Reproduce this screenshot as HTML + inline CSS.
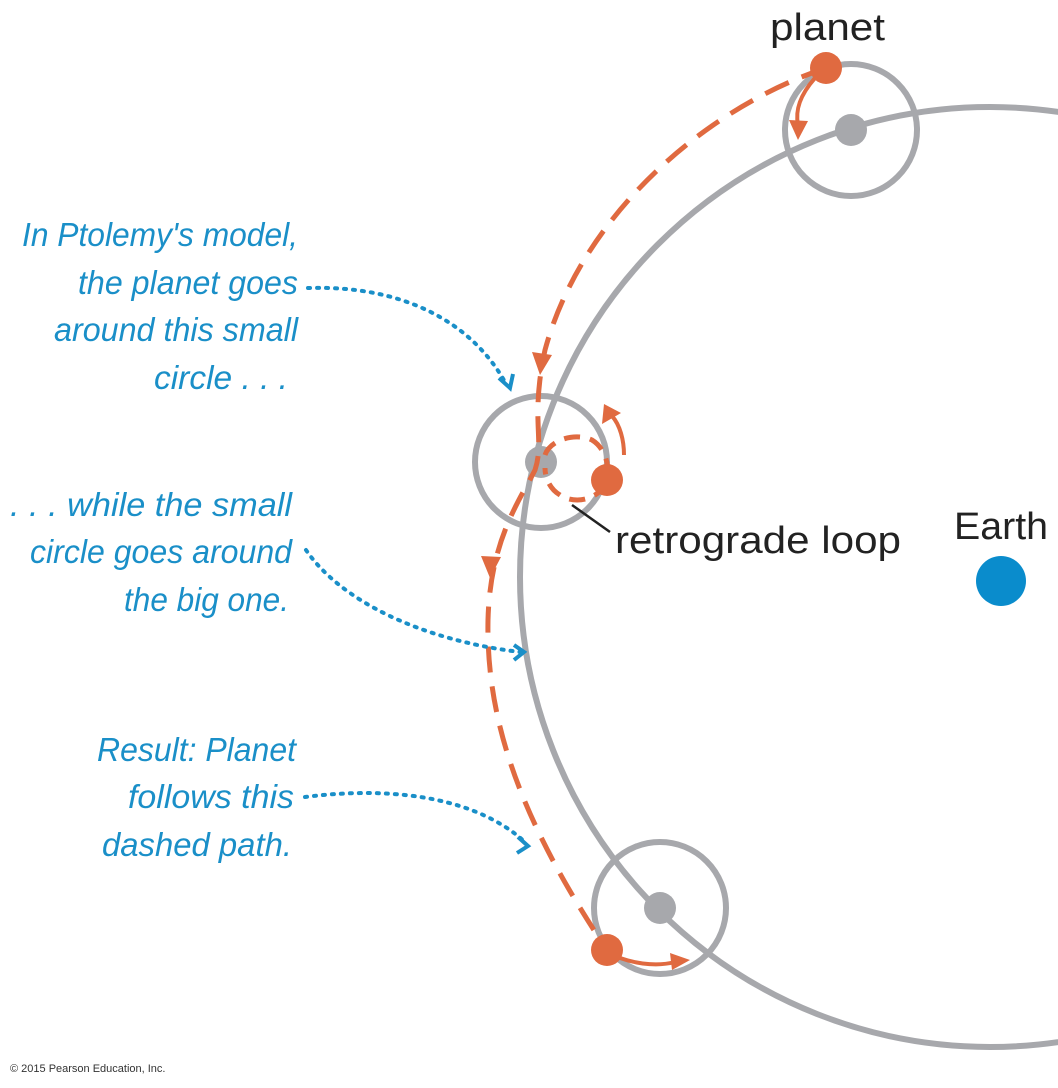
<!DOCTYPE html>
<html><head><style>
html,body{margin:0;padding:0;background:#fff;}
svg{display:block;}
</style></head><body>
<svg width="1058" height="1088" viewBox="0 0 1058 1088" xmlns="http://www.w3.org/2000/svg">
<!-- big circle -->
<circle cx="990" cy="577" r="470" fill="none" stroke="#a7a8ac" stroke-width="6"/>
<!-- small circles -->
<circle cx="851" cy="130" r="66" fill="none" stroke="#a7a8ac" stroke-width="6"/>
<circle cx="541" cy="462" r="66" fill="none" stroke="#a7a8ac" stroke-width="6"/>
<circle cx="660" cy="908" r="66" fill="none" stroke="#a7a8ac" stroke-width="6"/>
<circle cx="851" cy="130" r="16" fill="#a7a8ac"/>
<circle cx="541" cy="462" r="16" fill="#a7a8ac"/>
<circle cx="660" cy="908" r="16" fill="#a7a8ac"/>
<!-- dashed path -->
<path d="M826 68 C700 110 580 220 545 350 C530 420 545 440 535 470 C520 500 490 540 488 620 C486 720 520 820 607 950" fill="none" stroke="#e06a40" stroke-width="5" stroke-dasharray="26 14"/>
<!-- retrograde loop dashed -->
<path d="M545 455 C550 440 575 432 592 440 C605 448 610 465 607 480 C600 500 575 505 560 495 C548 488 545 475 545 468" fill="none" stroke="#e06a40" stroke-width="5" stroke-dasharray="16 10"/>
<!-- arrowheads on path -->
<polygon points="532,352 552,355 540,375" fill="#e06a40"/>
<polygon points="481,556 501,557 490,578" fill="#e06a40"/>
<!-- small circulation arrows -->
<path d="M815 78 C800 95 795 110 798 125" fill="none" stroke="#e06a40" stroke-width="4"/>
<polygon points="789,120 808,121 798,140" fill="#e06a40"/>
<path d="M624 455 C624 440 620 425 612 416" fill="none" stroke="#e06a40" stroke-width="4"/>
<polygon points="602,424 621,413 604,404" fill="#e06a40"/>
<path d="M620 958 C640 965 660 966 675 962" fill="none" stroke="#e06a40" stroke-width="4"/>
<polygon points="670,953 690,960 672,970" fill="#e06a40"/>
<!-- planet dots -->
<circle cx="826" cy="68" r="16" fill="#e06a40"/>
<circle cx="607" cy="480" r="16" fill="#e06a40"/>
<circle cx="607" cy="950" r="16" fill="#e06a40"/>
<!-- Earth -->
<circle cx="1001" cy="581" r="25" fill="#0a8ccc"/>
<!-- leader -->
<line x1="572" y1="505" x2="610" y2="532" stroke="#222" stroke-width="2.5"/>
<!-- blue dotted arrows -->
<g fill="none" stroke="#1a8fc8" stroke-width="4" stroke-dasharray="2 7" stroke-linecap="round">
<path d="M308 288 C400 285 470 320 505 382"/>
<path d="M306 550 C340 600 420 640 520 652"/>
<path d="M305 797 C400 785 480 800 526 843"/>
</g>
<g fill="none" stroke="#1a8fc8" stroke-width="4">
<polyline points="499,378 510,388 513,374"/>
<polyline points="514,645 524,652 514,660"/>
<polyline points="518,837 528,846 517,853"/>
</g>
<!-- texts -->
<g font-family="Liberation Sans, sans-serif" font-style="italic" font-size="33" fill="#1a8fc8" text-anchor="end">
<text x="298" y="246" textLength="276" lengthAdjust="spacingAndGlyphs">In Ptolemy's model,</text>
<text x="298" y="294" textLength="220" lengthAdjust="spacingAndGlyphs">the planet goes</text>
<text x="298" y="341" textLength="244" lengthAdjust="spacingAndGlyphs">around this small</text>
<text x="288" y="389" textLength="134" lengthAdjust="spacingAndGlyphs">circle . . .</text>
<text x="292" y="516" textLength="282" lengthAdjust="spacingAndGlyphs">. . . while the small</text>
<text x="292" y="563" textLength="262" lengthAdjust="spacingAndGlyphs">circle goes around</text>
<text x="289" y="611" textLength="165" lengthAdjust="spacingAndGlyphs">the big one.</text>
<text x="296" y="761" textLength="199" lengthAdjust="spacingAndGlyphs">Result: Planet</text>
<text x="294" y="808" textLength="166" lengthAdjust="spacingAndGlyphs">follows this</text>
<text x="292" y="856" textLength="190" lengthAdjust="spacingAndGlyphs">dashed path.</text>
</g>
<g font-family="Liberation Sans, sans-serif" font-size="38" fill="#222">
<text x="770" y="40" textLength="115" lengthAdjust="spacingAndGlyphs">planet</text>
<text x="954" y="539" textLength="94" lengthAdjust="spacingAndGlyphs">Earth</text>
<text x="615" y="553" textLength="286" lengthAdjust="spacingAndGlyphs">retrograde loop</text>
</g>
<text x="10" y="1072" font-family="Liberation Sans, sans-serif" font-size="11" fill="#333">© 2015 Pearson Education, Inc.</text>
</svg>
</body></html>
